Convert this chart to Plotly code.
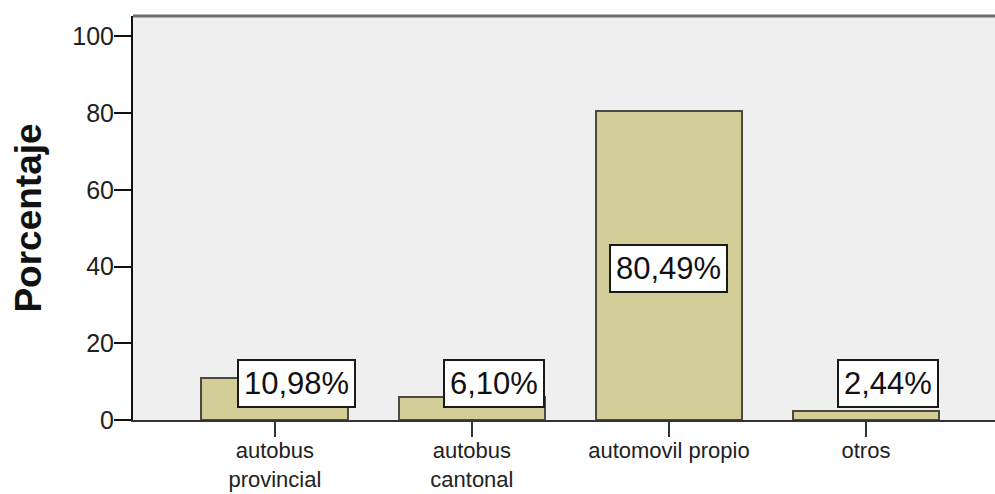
import plotly.graph_objects as go

categories = ["autobus<br>provincial", "autobus<br>cantonal", "automovil propio", "otros"]
percentages = [10.98, 6.10, 80.49, 2.44]
y_ticks = [0, 20, 40, 60, 80, 100]
y_title = "Porcentaje"

x_idx = list(range(len(categories)))

fig = go.Figure()
fig.add_trace(go.Bar(
    x=x_idx, y=percentages, width=0.745,
    marker=dict(color="#d3ce97", line=dict(color="#4a4a40", width=2)),
    hoverinfo="skip",
))

for i, v in enumerate(percentages):
    label = f"{v:.2f}".replace(".", ",") + "%"
    if v > 20:
        ann = dict(x=i, y=v / 2, yanchor="middle", xshift=0, yshift=-3)
    else:
        ann = dict(x=i, y=0, yanchor="bottom", xshift=22, yshift=12)
    fig.add_annotation(
        text=label, xref="x", yref="y", showarrow=False, xanchor="center",
        font=dict(family="Liberation Sans", size=31, color="#111111"),
        bgcolor="white", bordercolor="#1a1a1a", borderwidth=2, borderpad=5,
        **ann,
    )

fig.add_shape(type="line", xref="paper", yref="paper", x0=0, x1=1, y0=1, y1=1,
              line=dict(color="#6e6e6e", width=3))

fig.update_layout(
    width=995, height=494,
    margin=dict(l=133, r=0, t=16, b=74),
    paper_bgcolor="white", plot_bgcolor="#efefef",
    showlegend=False,
    font=dict(family="Liberation Sans", color="#222222"),
    bargap=0,
)
fig.update_xaxes(
    range=[-0.72, 3.655], tickmode="array", tickvals=x_idx, ticktext=categories,
    showgrid=False, zeroline=False, showline=True, linecolor="#333333", linewidth=2,
    ticks="outside", ticklen=15, tickwidth=2, tickcolor="#333333", automargin=False,
    ticklabelstandoff=-5,
    tickfont=dict(size=22, family="Liberation Sans", color="#222222"),
)
fig.update_yaxes(
    range=[0, 105.3], tickmode="array", tickvals=y_ticks,
    showgrid=False, zeroline=False, showline=True, linecolor="#111111", linewidth=2,
    ticks="outside", ticklen=17, tickwidth=2, tickcolor="#111111", automargin=False,
    ticklabelstandoff=-5,
    tickfont=dict(size=25, family="Liberation Sans", color="#222222"),
    title=dict(text=y_title, font=dict(size=37, family="Liberation Sans", color="#111111",
                                        weight="bold"),
               standoff=19),
)

fig.write_html("out.html", config={"displayModeBar": False},
               post_script="document.body.style.margin='0';document.body.style.overflow='hidden';")
